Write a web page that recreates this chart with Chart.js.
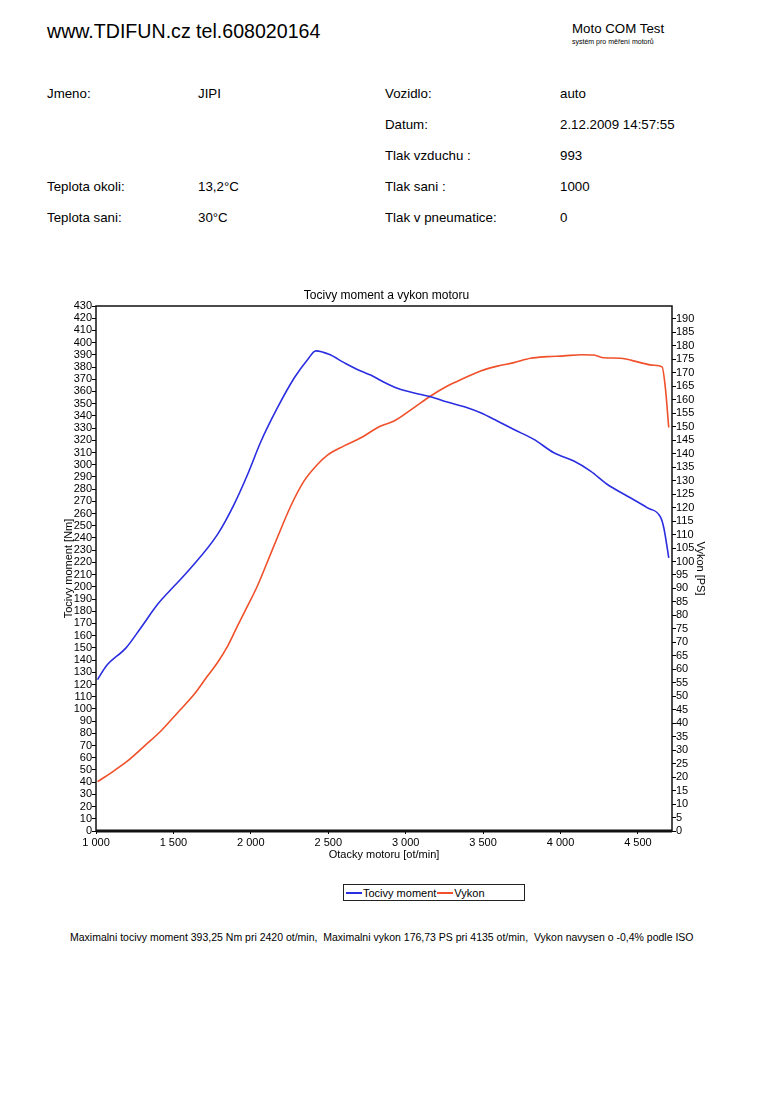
<!DOCTYPE html>
<html>
<head>
<meta charset="utf-8">
<script src="https://cdn.jsdelivr.net/npm/chart.js@4.4.0/dist/chart.umd.min.js"></script>
<style>
  body { margin: 0; background: #fff; font-family: 'Liberation Sans', Arial, sans-serif; color: #000; }
  #page { position: relative; width: 773px; height: 1100px; overflow: hidden; }
  .t { position: absolute; white-space: nowrap; line-height: 1; }
  .info { font-size: 13.3px; }
  #chart-box { position: absolute; left: 0; top: 270px; width: 773px; height: 600px; }
  #legend { position: absolute; left: 343px; top: 884px; width: 182px; height: 17px; border: 1px solid #222;
            font-size: 11px; display: flex; align-items: center; padding-left: 2px; box-sizing: border-box; }
  #legend .ln { display: inline-block; width: 16px; height: 0; border-top: 2px solid; margin-right: 1px; }
</style>
</head>
<body>
<div id="page">
  <div class="t" style="left:47px; top:22px; font-size:19.6px;">www.TDIFUN.cz tel.608020164</div>
  <div class="t" style="left:572px; top:22px; font-size:13.3px;">Moto COM Test</div>
  <div class="t" style="left:572px; top:38px; font-size:7px;">systém pro měření motorů</div>

  <div class="t info" style="left:47px; top:87px;">Jmeno:</div>
  <div class="t info" style="left:198px; top:87px;">JIPI</div>
  <div class="t info" style="left:385px; top:87px;">Vozidlo:</div>
  <div class="t info" style="left:560px; top:87px;">auto</div>
  <div class="t info" style="left:385px; top:118px;">Datum:</div>
  <div class="t info" style="left:560px; top:118px;">2.12.2009 14:57:55</div>
  <div class="t info" style="left:385px; top:149px;">Tlak vzduchu :</div>
  <div class="t info" style="left:560px; top:149px;">993</div>
  <div class="t info" style="left:47px; top:180px;">Teplota okoli:</div>
  <div class="t info" style="left:198px; top:180px;">13,2°C</div>
  <div class="t info" style="left:385px; top:180px;">Tlak sani :</div>
  <div class="t info" style="left:560px; top:180px;">1000</div>
  <div class="t info" style="left:47px; top:211px;">Teplota sani:</div>
  <div class="t info" style="left:198px; top:211px;">30°C</div>
  <div class="t info" style="left:385px; top:211px;">Tlak v pneumatice:</div>
  <div class="t info" style="left:560px; top:211px;">0</div>

  <div id="chart-box"><canvas id="dyno-chart"></canvas></div>

  <div id="legend">
    <span class="ln" style="border-color:#2a2ee0"></span><span>Tocivy moment</span>
    <span class="ln" style="border-color:#f0502a; margin-left:1px"></span><span>Vykon</span>
  </div>

  <div class="t" style="left:70px; top:932px; font-size:10.5px;">Maximalni tocivy moment 393,25 Nm pri 2420 ot/min,&nbsp; Maximalni vykon 176,73 PS pri 4135 ot/min,&nbsp; Vykon navysen o -0,4% podle ISO</div>
</div>

<script>
// Torque curve (rpm / Nm)
const torqueRpm = [1010, 1065, 1194, 1290, 1398, 1505, 1602, 1785, 1892, 1979, 2065, 2172, 2280, 2366, 2420,
    2505, 2602, 2710, 2774, 2839, 2946, 3075, 3161, 3269, 3398, 3484, 3592, 3699, 3828, 3957, 4086, 4194,
    4301, 4430, 4559, 4645, 4667, 4699];
const torqueNm = [124, 135, 150, 166.5, 185.7, 200.6, 214, 243, 267.6, 292, 319, 346.7, 371, 386, 393.25,
    390.4, 383.6, 376.7, 373.5, 369, 362.6, 358.2, 355.7, 351.3, 346.7, 342.6, 335.8, 328.8, 320.8, 309.8, 303, 294.8,
    284, 274.4, 264.8, 257.2, 248.4, 223.8];

// Power curve (rpm / PS)
const powerRpm = [1010, 1097, 1204, 1312, 1419, 1527, 1634, 1720, 1785, 1850, 1914, 1979, 2043, 2108, 2172,
    2258, 2344, 2430, 2495, 2602, 2710, 2839, 2925, 3054, 3161, 3269, 3376, 3484, 3592, 3699, 3806, 3914,
    4021, 4135, 4215, 4280, 4387, 4516, 4602, 4656, 4677, 4699];
const powerPs = [18.3, 21.6, 26, 31.5, 37.1, 43.9, 50.7, 57.5, 62.5, 68.6, 76.1, 83.5, 91, 100, 109,
    120.6, 129.9, 136, 139.5, 142.9, 145.9, 150.3, 152.1, 157.1, 161.4, 165.1, 168, 170.7, 172.5, 173.8, 175.4, 176,
    176.3, 176.73, 176.6, 175.6, 175.4, 173.8, 172.8, 172.2, 164.5, 149.7];

// Axis ranges and tick labels
const rpmMin = 1000, rpmMax = 4720;
const rpmTicks = [1000, 1500, 2000, 2500, 3000, 3500, 4000, 4500];
const torqueMax = 430, torqueStep = 10;
const powerMax = 194.8, powerStep = 5;

const BLUE = '#2a2ee0';
const ORANGE = '#f0502a';

Chart.defaults.font.family = "'Liberation Sans', Arial, sans-serif";
Chart.defaults.color = '#000';

function toPoints(xs, ys) {
    return xs.map((x, i) => ({ x: x, y: ys[i] }));
}

// frame round the plot, bottom edge heavier
const framePlugin = {
    id: 'frame',
    afterDraw(chart) {
        const { ctx, chartArea: a } = chart;
        ctx.save();
        ctx.strokeStyle = '#111';
        ctx.lineWidth = 1.5;
        ctx.strokeRect(a.left, a.top, a.right - a.left, a.bottom - a.top);
        ctx.lineWidth = 3;
        ctx.beginPath();
        ctx.moveTo(a.left, a.bottom);
        ctx.lineTo(a.right, a.bottom);
        ctx.stroke();
        ctx.restore();
    }
};

function initChart() {
    const ctx = document.getElementById('dyno-chart').getContext('2d');
    new Chart(ctx, {
        type: 'line',
        data: {
            datasets: [{
                label: 'Tocivy moment',
                data: toPoints(torqueRpm, torqueNm),
                borderColor: BLUE,
                borderWidth: 1.6,
                yAxisID: 'y',
                cubicInterpolationMode: 'monotone'
            }, {
                label: 'Vykon',
                data: toPoints(powerRpm, powerPs),
                borderColor: ORANGE,
                borderWidth: 1.6,
                yAxisID: 'y1',
                cubicInterpolationMode: 'monotone'
            }]
        },
        options: {
            responsive: true,
            maintainAspectRatio: false,
            animation: false,
            elements: { point: { radius: 0 } },
            layout: { padding: { top: 11, left: 0, right: 0, bottom: 4 } },
            plugins: {
                legend: { display: false },
                tooltip: { enabled: false },
                title: {
                    display: true,
                    text: 'Tocivy moment a vykon motoru',
                    font: { size: 12, weight: 'normal' },
                    padding: { top: 7, bottom: 3.6 }
                }
            },
            scales: {
                x: {
                    type: 'linear',
                    min: rpmMin,
                    max: rpmMax,
                    afterFit(scale) { scale.height = 35; },
                    afterBuildTicks(scale) { scale.ticks = rpmTicks.map(v => ({ value: v })); },
                    grid: { drawOnChartArea: false, tickLength: 3, color: '#000' },
                    border: { display: false },
                    ticks: {
                        autoSkip: false,
                        padding: 2,
                        font: { size: 11 },
                        maxRotation: 0,
                        callback: v => Math.floor(v / 1000) + ' ' + String(v % 1000).padStart(3, '0')
                    },
                    title: {
                        display: true,
                        text: 'Otacky motoru [ot/min]',
                        font: { size: 11 },
                        padding: { top: 0, bottom: 4.4 }
                    }
                },
                y: {
                    position: 'left',
                    min: 0,
                    max: torqueMax,
                    afterFit(scale) { scale.width = 96; },
                    grid: { drawOnChartArea: false, tickLength: 4, color: '#000' },
                    border: { display: false },
                    ticks: { stepSize: torqueStep, autoSkip: false, padding: 0, font: { size: 11 } },
                    title: {
                        display: true,
                        text: 'Tocivy moment [Nm]',
                        font: { size: 11 },
                        padding: { top: 62, bottom: 0 }
                    }
                },
                y1: {
                    position: 'right',
                    min: 0,
                    max: powerMax,
                    afterFit(scale) { scale.width = 101; },
                    grid: { drawOnChartArea: false, tickLength: 4, color: '#000' },
                    border: { display: false },
                    ticks: { stepSize: powerStep, includeBounds: false, autoSkip: false, padding: 0, font: { size: 11 } },
                    title: {
                        display: true,
                        text: 'Vykon [PS]',
                        font: { size: 11 },
                        padding: { top: 66.4, bottom: 0 }
                    }
                }
            }
        },
        plugins: [framePlugin]
    });
}

document.addEventListener('DOMContentLoaded', initChart);
</script>
</body>
</html>
